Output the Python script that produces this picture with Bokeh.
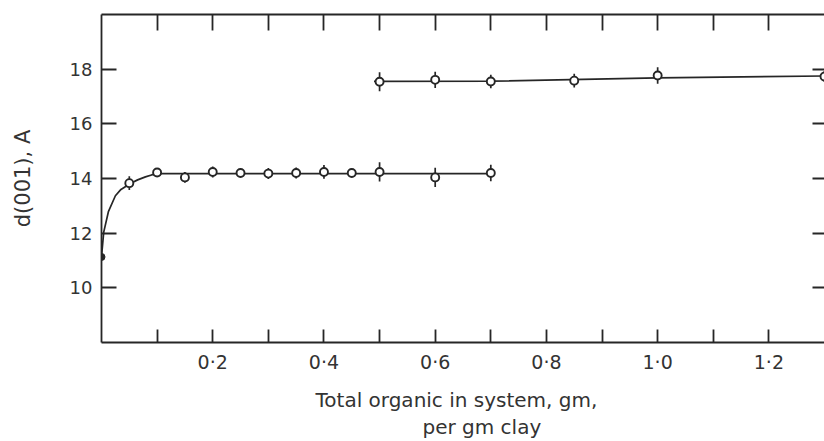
from bokeh.plotting import figure
from bokeh.models import LinearAxis, FixedTicker, Title, ColumnDataSource
from bokeh.embed import file_html
from bokeh.resources import INLINE

# ---- data ----
x_low = [0.05, 0.10, 0.15, 0.20, 0.25, 0.30, 0.35, 0.40, 0.45, 0.50, 0.60, 0.70]
y_low = [13.83, 14.22, 14.04, 14.24, 14.20, 14.18, 14.20, 14.24, 14.20, 14.24, 14.04, 14.20]
err_low = [0.25, 0.15, 0.20, 0.20, 0.15, 0.20, 0.20, 0.25, 0.15, 0.35, 0.35, 0.30]

x_start = [0.0]
y_start = [11.13]

curve_x = [0.0, 0.004, 0.0126, 0.025, 0.035, 0.052, 0.065, 0.079, 0.090, 0.101, 0.70]
curve_y = [11.13, 12.04, 12.80, 13.37, 13.60, 13.82, 13.95, 14.06, 14.13, 14.18, 14.18]

x_up = [0.50, 0.60, 0.70, 0.85, 1.00, 1.30]
y_up = [17.54, 17.61, 17.55, 17.58, 17.77, 17.73]
err_up = [0.35, 0.30, 0.25, 0.25, 0.30, 0.20]

line_up_x = [0.49, 0.70, 1.00, 1.30]
line_up_y = [17.55, 17.56, 17.68, 17.75]

x_major = [0.2, 0.4, 0.6, 0.8, 1.0, 1.2]
x_labels = ["0·2", "0·4", "0·6", "0·8", "1·0", "1·2"]
x_minor = [0.1, 0.3, 0.5, 0.7, 0.9, 1.1]
x_top_ticks = [0.1, 0.2, 0.3, 0.4, 0.5, 0.6, 0.7, 0.8, 0.9, 1.0, 1.1, 1.2]
y_ticks = [10, 12, 14, 16, 18]
y_labels = ["10", "12", "14", "16", "18"]

x_title_1 = "Total organic in system, gm,"
x_title_2 = "per gm clay"
y_title = "d(001), A"

FONT = "DejaVu Sans"
INK = "#262626"
TXT = "#333333"

p = figure(width=824, height=441, x_range=(0, 1.3), y_range=(8, 20),
           output_backend="svg", toolbar_location=None,
           x_axis_location=None, y_axis_location=None,
           min_border_left=101, min_border_right=0, min_border_top=14, min_border_bottom=99)
p.outline_line_color = None
p.xgrid.visible = False
p.ygrid.visible = False
p.background_fill_color = "white"
p.border_fill_color = "white"

def style(ax):
    ax.axis_line_color = INK
    ax.axis_line_width = 1.8
    ax.major_tick_line_color = INK
    ax.major_tick_line_width = 1.8
    ax.minor_tick_line_color = INK
    ax.minor_tick_line_width = 1.8
    ax.major_tick_out = 0
    ax.minor_tick_out = 0
    ax.major_label_text_font = FONT
    ax.major_label_text_color = TXT
    ax.major_label_text_font_size = "19px"
    ax.axis_label_text_font = FONT
    ax.axis_label_text_font_style = "normal"
    ax.axis_label_text_color = TXT
    ax.axis_label_text_font_size = "21px"

# bottom axis
xb = LinearAxis(ticker=FixedTicker(ticks=x_major, minor_ticks=x_minor))
style(xb)
xb.major_tick_in = 13
xb.minor_tick_in = 13
xb.major_label_overrides = dict(zip(x_major, x_labels))
xb.major_label_standoff = 8
p.add_layout(xb, "below")

# left axis
yl = LinearAxis(ticker=FixedTicker(ticks=y_ticks, minor_ticks=[]))
style(yl)
yl.major_tick_in = 15
yl.major_label_text_font_size = "18px"
yl.major_label_overrides = dict(zip(y_ticks, y_labels))
yl.major_label_standoff = 9
yl.axis_label = y_title
yl.axis_label_standoff = 32
p.add_layout(yl, "left")

# top axis (ticks only)
xt = LinearAxis(ticker=FixedTicker(ticks=x_top_ticks, minor_ticks=[]))
style(xt)
xt.major_tick_in = 16
xt.major_label_overrides = {t: "" for t in x_top_ticks}
xt.major_label_standoff = 0
p.add_layout(xt, "above")

# right axis (ticks only, its line is cut off in the reference)
yr = LinearAxis(ticker=FixedTicker(ticks=y_ticks, minor_ticks=[]))
style(yr)
yr.axis_line_color = None
yr.major_tick_in = 12
yr.major_label_overrides = {t: "" for t in y_ticks}
yr.major_label_standoff = 0
p.add_layout(yr, "right")

# x-axis title in two lines
t1 = Title(text=x_title_1, align="left", offset=214,
           text_font=FONT, text_font_size="20px", text_font_style="normal",
           text_color=TXT, standoff=20)
t2 = Title(text=x_title_2, align="left", offset=321,
           text_font=FONT, text_font_size="20px", text_font_style="normal",
           text_color=TXT, standoff=-17)
p.add_layout(t1, "below")
p.add_layout(t2, "below")

# data
p.line(curve_x, curve_y, line_color=INK, line_width=1.7)
p.line(line_up_x, line_up_y, line_color=INK, line_width=1.7)

src_low = ColumnDataSource(dict(x=x_low, y=y_low,
                                lo=[a - b for a, b in zip(y_low, err_low)],
                                hi=[a + b for a, b in zip(y_low, err_low)]))
src_up = ColumnDataSource(dict(x=x_up, y=y_up,
                               lo=[a - b for a, b in zip(y_up, err_up)],
                               hi=[a + b for a, b in zip(y_up, err_up)]))
for src in (src_low, src_up):
    p.segment(x0="x", y0="lo", x1="x", y1="hi", source=src, line_color=INK, line_width=1.7)
    p.scatter(x="x", y="y", source=src, marker="circle", size=8,
              fill_color="white", line_color=INK, line_width=1.9)

p.scatter(x_start, y_start, marker="circle", size=7, fill_color=INK, line_color=INK)

open("out.html", "w").write(file_html(p, INLINE))
